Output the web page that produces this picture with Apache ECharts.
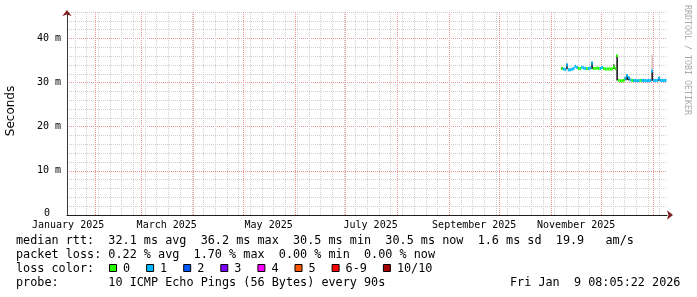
<!DOCTYPE html>
<html><head><meta charset="utf-8">
<script src="https://cdn.jsdelivr.net/npm/echarts@6/dist/echarts.min.js"></script>
<style>html,body{margin:0;padding:0;background:#fff}#c{width:697px;height:297px}</style>
</head><body><div id="c"></div>
<script>
// Time unit: days since 2025-01-01 00:00
var X_MIN = 14.34, X_MAX = 373.34;
var Y_MIN = 0, Y_MAX = 46; // milliseconds

var monthStartDays = [31, 59, 90, 120, 151, 181, 212, 243, 273, 304, 334, 365];
var labelDays = [15, 74, 135, 196, 258, 319];
var labelNames = ['January 2025', 'March 2025', 'May 2025', 'July 2025', 'September 2025', 'November 2025'];
var firstMondayDay = 19; // 2025-01-20
var yTickValues = [0, 10, 20, 30, 40];
var yMajorGrid = [10, 20, 30, 40];

// one sample per day, first sample ends on day 311 (2025-11-08)
var firstSampleDay = 311;
var medianMs = [
  33.2, 33.1, 33.0, 34.0, 32.9, 32.9, 33.0, 33.2, 33.7, 33.4,
  33.2, 33.2, 33.5, 33.3, 33.2, 33.2, 33.2, 33.3, 34.4, 33.2,
  33.2, 33.3, 33.2, 33.2, 33.4, 33.2, 33.1, 33.1, 33.1, 33.1,
  33.1, 33.6, 33.2, 36.1, 30.5, 30.4, 30.4, 30.5, 31.0, 31.6,
  31.1, 30.6, 30.5, 30.5, 30.5, 30.4, 30.5, 30.5, 30.5, 30.5,
  30.5, 30.4, 30.5, 30.5, 32.6, 30.5, 30.5, 30.5, 31.0, 30.5,
  30.5, 30.5, 30.5
];
var lossCount = [
  0, 1, 1, 1, 1, 1, 1, 1, 1, 1,
  0, 0, 1, 1, 1, 0, 1, 1, 1, 0,
  0, 0, 0, 1, 1, 0, 0, 0, 0, 0,
  0, 0, 0, 0, 0, 0, 0, 0, 1, 1,
  1, 1, 0, 1, 1, 1, 1, 0, 1, 1,
  1, 1, 1, 1, 1, 1, 1, 1, 1, 1,
  1, 1, 1
];
// dark smoke (ping spread) where visible
var smokeDays = [311, 314, 329, 342, 344, 349, 350, 351, 365, 369];
var smokeLoMs = [33.0, 33.0, 33.1, 33.1, 30.5, 30.5, 30.6, 30.5, 30.4, 30.4];
var smokeHiMs = [33.5, 34.3, 34.7, 34.1, 36.2, 31.2, 31.8, 31.3, 32.7, 31.2];
// faint smoke
var lightSmokeDays = [365];
var lightSmokeLoMs = [32.7];
var lightSmokeHiMs = [36.3];

var lossColors = ['#26ff00', '#00b8ff', '#0059ff', '#7e00ff', '#ff00ff', '#ff5500', '#ff0000', '#a10000'];
var lossLabels = ['0', '1', '2', '3', '4', '5', '6-9', '10/10'];

var statsLine1 = 'median rtt:  32.1 ms avg  36.2 ms max  30.5 ms min  30.5 ms now  1.6 ms sd  19.9   am/s';
var statsLine2 = 'packet loss: 0.22 % avg  1.70 % max  0.00 % min  0.00 % now';
var lossTitle = 'loss color:';
var probeLine = 'probe:       10 ICMP Echo Pings (56 Bytes) every 90s';
var dateText = 'Fri Jan  9 08:05:22 2026';
var yTitle = 'Seconds';
var watermark = 'RRDTOOL / TOBI OETIKER';

// ---- build ----
var weekDays = [];
for (var w = firstMondayDay; w < X_MAX; w += 7) weekDays.push(w);

var medianData = medianMs.map(function (v, i) { return [firstSampleDay + i, v, lossCount[i]]; });
var smokeData = smokeDays.map(function (d, i) { return [d, smokeLoMs[i], smokeHiMs[i]]; });
var lightSmokeData = lightSmokeDays.map(function (d, i) { return [d, lightSmokeLoMs[i], lightSmokeHiMs[i]]; });

var MONO = '"DejaVu Sans Mono"';

function xBase(extra) {
  var a = { type: 'value', min: X_MIN, max: X_MAX, position: 'bottom',
    axisLine: { show: false }, axisTick: { show: false }, axisLabel: { show: false }, splitLine: { show: false } };
  for (var k in extra) a[k] = extra[k];
  return a;
}
function yBase(extra) {
  var a = { type: 'value', min: Y_MIN, max: Y_MAX, position: 'left',
    axisLine: { show: false }, axisTick: { show: false }, axisLabel: { show: false }, splitLine: { show: false } };
  for (var k in extra) a[k] = extra[k];
  return a;
}
function minorLine() { return { show: true, lineStyle: { color: '#cfcfcf', type: [1, 1], width: 1 } }; }
function majorLine() { return { show: true, lineStyle: { color: '#eb9595', type: [1, 1], width: 1 } }; }

function smokeRender(color) {
  return function (params, api) {
    var d = api.value(0), lo = api.value(1), hi = api.value(2);
    var p0 = api.coord([d - 1, hi]), p1 = api.coord([d, lo]);
    return { type: 'rect', shape: { x: p0[0], y: p0[1], width: p1[0] - p0[0], height: p1[1] - p0[1] },
      style: { fill: color } };
  };
}

var legendFont = '11.8px ' + MONO;
var graphics = [
  { type: 'text', x: 16, y: 241, style: { text: statsLine1, font: legendFont, fill: '#000', verticalAlign: 'middle', textVerticalAlign: 'middle' } },
  { type: 'text', x: 16, y: 255, style: { text: statsLine2, font: legendFont, fill: '#000', verticalAlign: 'middle', textVerticalAlign: 'middle' } },
  { type: 'text', x: 16, y: 269, style: { text: lossTitle, font: legendFont, fill: '#000', verticalAlign: 'middle', textVerticalAlign: 'middle' } },
  { type: 'text', x: 16, y: 283, style: { text: probeLine, font: legendFont, fill: '#000', verticalAlign: 'middle', textVerticalAlign: 'middle' } },
  { type: 'text', x: 510, y: 283, style: { text: dateText, font: legendFont, fill: '#000', verticalAlign: 'middle', textVerticalAlign: 'middle' } },
  { type: 'text', x: 11, y: 111, rotation: Math.PI / 2, style: { text: yTitle, font: '12px "DejaVu Sans"', fill: '#000', align: 'center', textAlign: 'center', verticalAlign: 'middle', textVerticalAlign: 'middle' } },
  { type: 'text', x: 687, y: 60, rotation: -Math.PI / 2, style: { text: watermark, font: '8.3px ' + MONO, fill: '#aaaaaa', align: 'center', textAlign: 'center', verticalAlign: 'middle', textVerticalAlign: 'middle' } }
];
var sq = 109;
lossLabels.forEach(function (lab, i) {
  graphics.push({ type: 'rect', shape: { x: sq + 0.5, y: 264.5, width: 7, height: 7 }, style: { fill: lossColors[i], stroke: '#000', lineWidth: 1 } });
  graphics.push({ type: 'text', x: sq + 14, y: 269, style: { text: lab, font: legendFont, fill: '#000', verticalAlign: 'middle', textVerticalAlign: 'middle' } });
  sq = sq + 14 + lab.length * 7.1 + 16;
});

var chart = echarts.init(document.getElementById('c'), null, { renderer: 'canvas' });
chart.setOption({
  animation: false,
  backgroundColor: '#ffffff',
  grid: { left: 67, right: 30, top: 12, bottom: 82, containLabel: false },
  xAxis: [
    xBase({ axisTick: { show: false, customValues: weekDays }, splitLine: minorLine() }),
    xBase({ axisTick: { show: false, customValues: monthStartDays }, splitLine: majorLine() }),
    xBase({ axisLine: { show: true, onZero: false, lineStyle: { color: '#1f1f1f', width: 1 } },
      axisLabel: { show: true, customValues: labelDays, margin: 5, color: '#000', fontFamily: MONO, fontSize: 10,
        formatter: function (v) {
          var best = 0;
          for (var i = 1; i < labelDays.length; i++) if (Math.abs(labelDays[i] - v) < Math.abs(labelDays[best] - v)) best = i;
          return labelNames[best];
        } } }),
    xBase({ axisLine: { show: true, onZero: false, symbol: ['none', 'arrow'], symbolSize: [7, 6], symbolOffset: [0, 6], lineStyle: { color: '#801f1f', width: 0 } } })
  ],
  yAxis: [
    yBase({ interval: 2, splitLine: minorLine() }),
    yBase({ axisTick: { show: false, customValues: yMajorGrid }, splitLine: majorLine() }),
    yBase({ axisLine: { show: true, onZero: false, lineStyle: { color: '#3a3a3a', width: 1 } },
      axisLabel: { show: true, customValues: yTickValues, margin: 6, color: '#000', fontFamily: MONO, fontSize: 10,
        formatter: function (v) { return v === 0 ? '{z|0}' : v + ' m'; },
        rich: { z: { fontFamily: MONO, fontSize: 10, color: '#000', padding: [0, 11, 3, 0] } } } }),
    yBase({ axisLine: { show: true, onZero: false, symbol: ['none', 'arrow'], symbolSize: [7, 6], symbolOffset: [0, 2], lineStyle: { color: '#801f1f', width: 0 } } })
  ],
  series: [
    { type: 'custom', silent: true, z: 3, data: lightSmokeData, renderItem: smokeRender('#d6c6c6') },
    { type: 'custom', silent: true, z: 4, data: smokeData, renderItem: smokeRender('#222222') },
    { type: 'custom', silent: true, z: 5, data: medianData,
      renderItem: function (params, api) {
        var d = api.value(0), v = api.value(1), l = api.value(2);
        var p0 = api.coord([d - 1, v]), p1 = api.coord([d, v]);
        return { type: 'rect', shape: { x: p0[0], y: p0[1] - 1.5, width: p1[0] - p0[0], height: 3 },
          style: { fill: lossColors[l] } };
      } }
  ],
  graphic: graphics
});
</script></body></html>
